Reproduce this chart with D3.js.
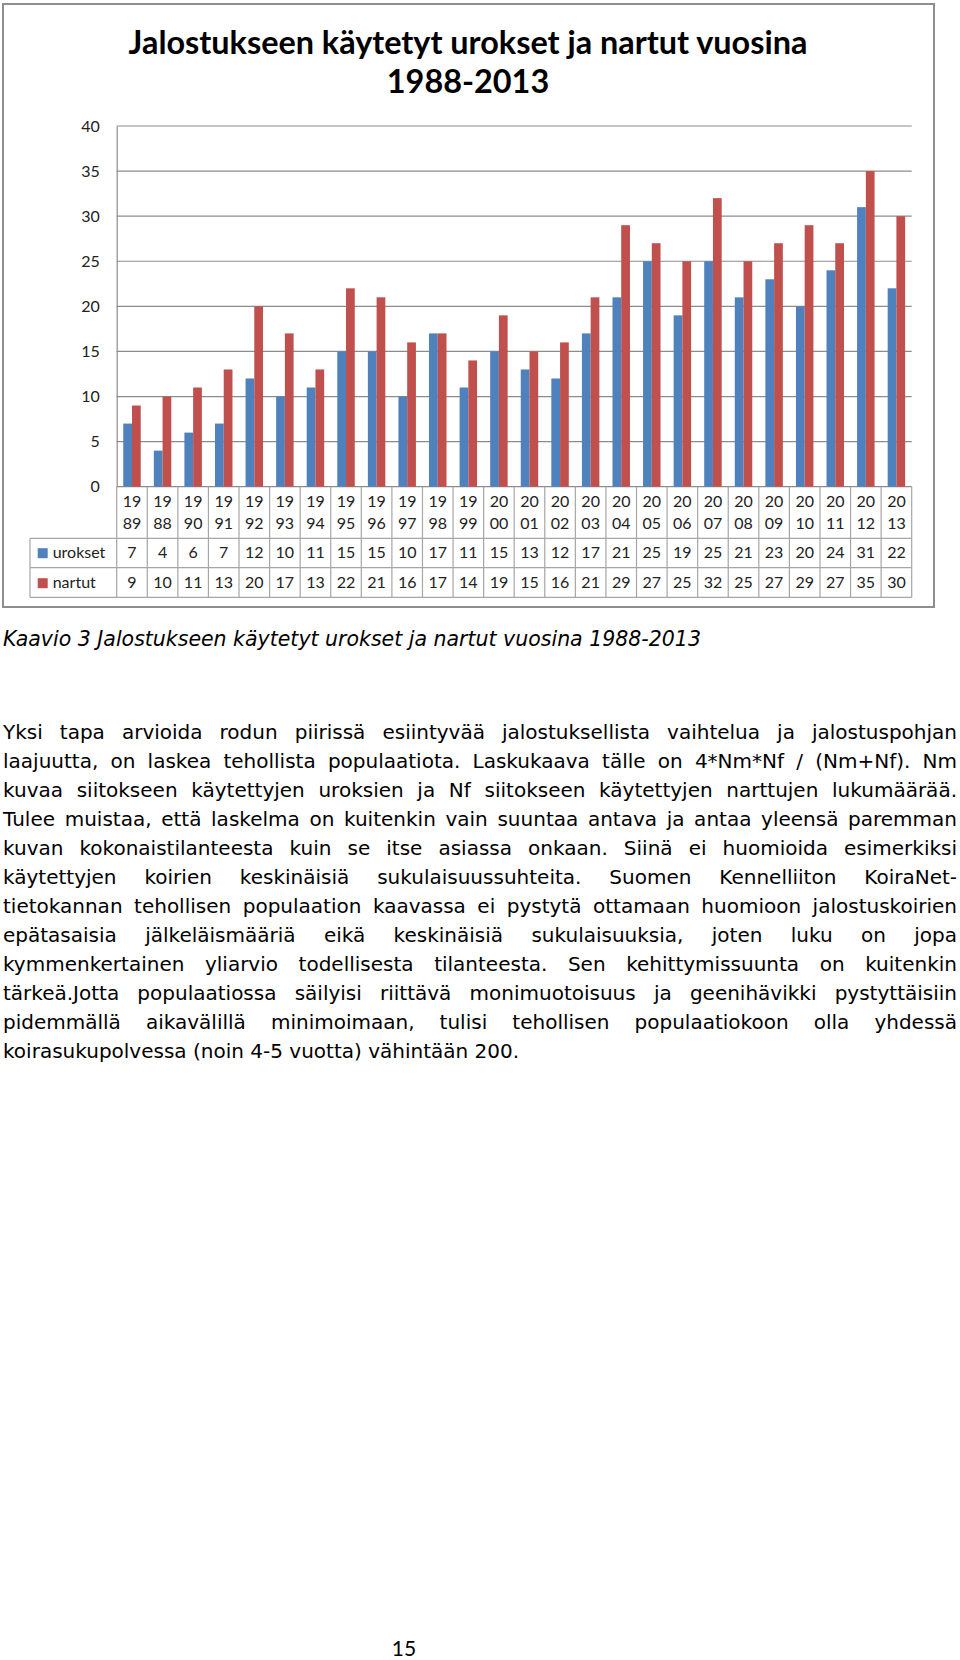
<!DOCTYPE html>
<html><head><meta charset="utf-8">
<script src="https://d3js.org/d3.v7.min.js"></script>
<style>
body{margin:0;background:#fff;}
svg{display:block}
</style></head><body>
<script>
// ---- data ----
const years = ["1989","1988","1990","1991","1992","1993","1994","1995","1996","1997","1998","1999","2000","2001","2002","2003","2004","2005","2006","2007","2008","2009","2010","2011","2012","2013"];
const urokset = [7,4,6,7,12,10,11,15,15,10,17,11,15,13,12,17,21,25,19,25,21,23,20,24,31,22];
const nartut  = [9,10,11,13,20,17,13,22,21,16,17,14,19,15,16,21,29,27,25,32,25,27,29,27,35,30];
const seriesNames = ["urokset","nartut"];
const yTicks = [0,5,10,15,20,25,30,35,40];
const titleLines = ["Jalostukseen käytetyt urokset ja nartut vuosina","1988-2013"];
const caption = "Kaavio 3 Jalostukseen käytetyt urokset ja nartut vuosina 1988-2013";
const bodyLines = [
"Yksi tapa arvioida rodun piirissä esiintyvää jalostuksellista vaihtelua ja jalostuspohjan",
"laajuutta, on laskea tehollista populaatiota. Laskukaava tälle on 4*Nm*Nf / (Nm+Nf). Nm",
"kuvaa siitokseen käytettyjen uroksien ja Nf siitokseen käytettyjen narttujen lukumäärää.",
"Tulee muistaa, että laskelma on kuitenkin vain suuntaa antava ja antaa yleensä paremman",
"kuvan kokonaistilanteesta kuin se itse asiassa onkaan. Siinä ei huomioida esimerkiksi",
"käytettyjen koirien keskinäisiä sukulaisuussuhteita. Suomen Kennelliiton KoiraNet-",
"tietokannan tehollisen populaation kaavassa ei pystytä ottamaan huomioon jalostuskoirien",
"epätasaisia jälkeläismääriä eikä keskinäisiä sukulaisuuksia, joten luku on jopa",
"kymmenkertainen yliarvio todellisesta tilanteesta. Sen kehittymissuunta on kuitenkin",
"tärkeä.Jotta populaatiossa säilyisi riittävä monimuotoisuus ja geenihävikki pystyttäisiin",
"pidemmällä aikavälillä minimoimaan, tulisi tehollisen populaatiokoon olla yhdessä",
"koirasukupolvessa (noin 4-5 vuotta) vähintään 200."
];
const pageNumber = "15";

// ---- layout ----
const W = 960, H = 1660;
const colors = {urokset:"#4F81BD", nartut:"#C0504D"};
const plot = {left:116.7, right:911.7, top:126, bottom:486.7};
const chartFont = "Lato, 'Open Sans', sans-serif";
const bodyFont = "'DejaVu Sans', sans-serif";

const svg = d3.select("body").append("svg").attr("width",W).attr("height",H);

// outer chart frame
svg.append("rect").attr("x",3).attr("y",4).attr("width",931).attr("height",603)
  .attr("fill","#fff").attr("stroke","#8e8e8e").attr("stroke-width",2);

// title
svg.append("g").selectAll("text").data(titleLines).join("text")
  .attr("x",468).attr("y",(d,i)=>54+i*39)
  .attr("text-anchor","middle").attr("font-family",chartFont)
  .attr("font-weight","bold").attr("font-size",32.4).attr("fill","#000").text(d=>d);

// scales
const x = d3.scaleBand().domain(years).range([plot.left, plot.right]);
const x1 = d3.scaleBand().domain(seriesNames).range([0, x.bandwidth()]).paddingInner(0).paddingOuter(0.75);
const y = d3.scaleLinear().domain([0,40]).range([plot.bottom, plot.top]);

// gridlines
svg.append("g").selectAll("line").data(yTicks).join("line")
  .attr("x1",plot.left).attr("x2",plot.right)
  .attr("y1",d=>y(d)).attr("y2",d=>y(d))
  .attr("stroke","#8c8c8c").attr("stroke-width",1.2);

// y axis via d3 axis
const yAxis = svg.append("g").attr("transform",`translate(${plot.left},0)`)
  .call(d3.axisLeft(y).tickValues(yTicks).tickSize(0).tickPadding(17));
yAxis.select(".domain").attr("stroke","#8c8c8c").attr("stroke-width",1.2);
yAxis.selectAll("text").attr("font-family",chartFont).attr("font-size",16).attr("fill","#222");

// bars
const data = years.map((yr,i)=>({year:yr, values:[{key:"urokset",v:urokset[i]},{key:"nartut",v:nartut[i]}]}));
svg.append("g").selectAll("g").data(data).join("g")
  .attr("transform",d=>`translate(${x(d.year)},0)`)
  .selectAll("rect").data(d=>d.values).join("rect")
  .attr("x",d=>x1(d.key)).attr("width",x1.bandwidth())
  .attr("y",d=>y(d.v)).attr("height",d=>y(0)-y(d.v))
  .attr("fill",d=>colors[d.key]);

// data table
const tbl = {legendLeft:30, yearBottom:538.3, row1Bottom:567.7, row2Bottom:597.3};
const tg = svg.append("g").attr("stroke","#a6a6a6").attr("stroke-width",1.2);
const edges = years.map(d=>x(d)).concat([plot.right]);
tg.selectAll("line.v").data(edges).join("line").attr("class","v")
  .attr("x1",d=>d).attr("x2",d=>d).attr("y1",plot.bottom).attr("y2",tbl.row2Bottom);
tg.append("line").attr("x1",tbl.legendLeft).attr("x2",tbl.legendLeft).attr("y1",tbl.yearBottom).attr("y2",tbl.row2Bottom);
[tbl.yearBottom, tbl.row1Bottom, tbl.row2Bottom].forEach(yy=>{
  tg.append("line").attr("x1",tbl.legendLeft).attr("x2",plot.right).attr("y1",yy).attr("y2",yy);
});

// year labels (two lines)
const yl = svg.append("g").attr("font-family",chartFont).attr("font-size",16).attr("fill","#222").attr("text-anchor","middle");
yl.selectAll("text.a").data(years).join("text").attr("class","a")
  .attr("x",d=>x(d)+x.bandwidth()/2).attr("y",501.7).attr("dy","0.35em").text(d=>d.slice(0,2));
yl.selectAll("text.b").data(years).join("text").attr("class","b")
  .attr("x",d=>x(d)+x.bandwidth()/2).attr("y",523.3).attr("dy","0.35em").text(d=>d.slice(2));

// value rows
const rows = [{key:"urokset", vals:urokset, cy:552.7},{key:"nartut", vals:nartut, cy:582.7}];
rows.forEach(r=>{
  const g = svg.append("g").attr("font-family",chartFont).attr("font-size",16).attr("fill","#222");
  g.selectAll("text").data(r.vals).join("text")
    .attr("text-anchor","middle")
    .attr("x",(d,i)=>x(years[i])+x.bandwidth()/2).attr("y",r.cy).attr("dy","0.35em").text(d=>d);
  g.append("rect").attr("x",37.7).attr("y",r.cy-4.5).attr("width",10).attr("height",10).attr("fill",colors[r.key]);
  g.append("text").attr("x",52.7).attr("y",r.cy).attr("dy","0.35em").text(r.key);
});

// caption
svg.append("text").attr("x",3).attr("y",639.3).attr("dy","0.35em")
  .attr("font-family",bodyFont).attr("font-style","italic").attr("font-size",20.5).attr("fill","#000").text(caption);

// body text, justified lines
const bodyLeft = 3, bodyWidth = 954, lineStart = 732.4, lineStep = 28.96;
const bt = svg.append("g").attr("font-family",bodyFont).attr("font-size",20).attr("fill","#000");
bodyLines.forEach((line,i)=>{
  const t = bt.append("text").attr("x",bodyLeft).attr("y",lineStart+i*lineStep).attr("dy","0.35em").text(line);
  if(i < bodyLines.length-1){
    const nat = t.node().getComputedTextLength();
    const spaces = (line.match(/ /g)||[]).length;
    if(spaces>0) t.attr("word-spacing", (bodyWidth-nat)/spaces);
  }
});

// page number
svg.append("text").attr("x",404).attr("y",1649).attr("dy","0.35em").attr("text-anchor","middle")
  .attr("font-family",chartFont).attr("font-size",21).attr("fill","#000").text(pageNumber);
</script>
</body></html>
